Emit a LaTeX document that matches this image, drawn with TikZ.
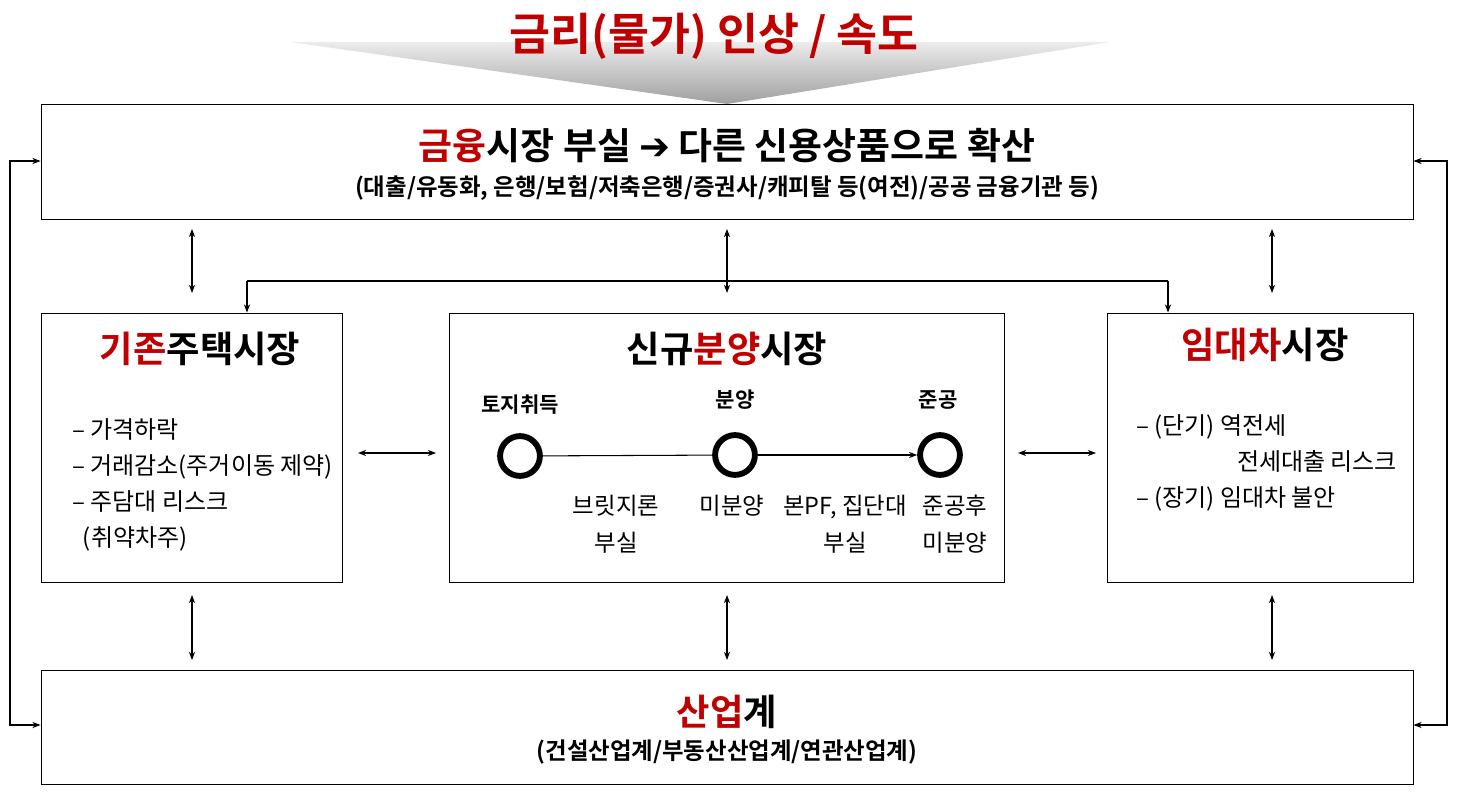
\documentclass[tikz,border=0pt]{standalone}
\usepackage{fontspec}
\setmainfont{Noto Sans CJK KR}
\newfontfamily\kb{Noto Sans CJK KR Bold}
\newfontfamily\djvarrow{DejaVu Sans Bold}
\usetikzlibrary{arrows.meta}
\definecolor{dred}{HTML}{C00000}
\tikzset{box/.style={draw,line width=0.8pt},
 dbl/.style={{Stealth[length=7pt]}-{Stealth[length=7pt]},line width=0.9pt},
 one/.style={-{Stealth[length=7pt]},line width=0.9pt},
 ring/.style={circle,draw,line width=5pt,minimum size=34pt,inner sep=0pt},
 lst/.style={font=\fontsize{20.5}{31}\selectfont,align=left,anchor=north west},
 two/.style={font=\fontsize{20}{32}\selectfont,align=center}}
\begin{document}
\begin{tikzpicture}[x=0.03cm,y=-0.03cm]
\useasboundingbox (0,0) rectangle (1457,795);
\shade[top color=gray!15,bottom color=gray!75] (290,42) -- (1110,42) -- (727,104) -- cycle;
\node (title) at (714,36) {\kb\fontsize{38}{40}\selectfont\color{dred}금리(물가) 인상 / 속도};
\node[box,minimum width=1372*0.03cm,minimum height=115*0.03cm] (top) at (727,161.5) {};
\node (t1) at (727,146) {\kb\fontsize{31.5}{34}\selectfont\textcolor{dred}{금융}시장 부실 {\djvarrow ➔} 다른 신용상품으로 확산};
\node (t2) at (727,188) {\kb\fontsize{20}{22}\selectfont (대출/유동화, 은행/보험/저축은행/증권사/캐피탈 등(여전)/공공 금융기관 등)};
\node[box,minimum width=1372*0.03cm,minimum height=114*0.03cm] (bot) at (727,727) {};
\node (b1) at (727,712) {\kb\fontsize{31}{34}\selectfont\textcolor{dred}{산업}계};
\node (b2) at (727,752) {\kb\fontsize{20}{22}\selectfont (건설산업계/부동산산업계/연관산업계)};
\node[box,minimum width=301*0.03cm,minimum height=269*0.03cm] (L) at (191.5,447.5) {};
\node[box,minimum width=555*0.03cm,minimum height=269*0.03cm] (M) at (726.5,447.5) {};
\node[box,minimum width=306*0.03cm,minimum height=269*0.03cm] (R) at (1260,447.5) {};
\node (Lh) at (200,349) {\kb\fontsize{31}{34}\selectfont\textcolor{dred}{기존}주택시장};
\node (Mh) at (727,349) {\kb\fontsize{31}{34}\selectfont 신규\textcolor{dred}{분양}시장};
\node (Rh) at (1265,345) {\kb\fontsize{31}{34}\selectfont\textcolor{dred}{임대차}시장};
\node[lst] (Ll) at (68,414) {– 가격하락\\– 거래감소(주거이동 제약)\\– 주담대 리스크\\\ \ (취약차주)};
\node[lst] (Rl) at (1132,410) {– (단기) 역전세\\\hspace{4.2em}전세대출 리스크\\– (장기) 임대차 불안};
\node[ring] (c1) at (520,456) {};
\node[ring] (c2) at (735,455) {};
\node[ring] (c3) at (940,455) {};
\draw[line width=0.9pt] (c1) -- (c2);
\draw[one] (c2) -- (c3);
\node (l1) at (520,405) {\kb\fontsize{18}{20}\selectfont 토지취득};
\node (l2) at (735,400) {\kb\fontsize{18}{20}\selectfont 분양};
\node (l3) at (938,400) {\kb\fontsize{18}{20}\selectfont 준공};
\node[two] (s1) at (616,524) {브릿지론\\부실};
\node[two] (s2) at (732,506) {미분양};
\node[two] (s3) at (845,524) {본PF, 집단대\\부실};
\node[two] (s4) at (955,524) {준공후\\미분양};
\foreach \x in {192,727,1272}{
 \draw[dbl] (\x,229) -- (\x,293);
 \draw[dbl] (\x,595) -- (\x,660);}
\draw[dbl] (358,453) -- (436,453);
\draw[dbl] (1018,453) -- (1096,453);
\coordinate (hl) at (247,281); \coordinate (hr) at (1168,281);
\draw[line width=0.9pt] (hl) -- (hr);
\draw[one] (hl) -- (L.north -| hl);
\draw[one] (hr) -- (R.north -| hr);
\coordinate (ol1) at (10,161); \coordinate (ol2) at (10,725);
\draw[one] (ol2) -- (ol1) -- (top.west |- ol1);
\draw[one] (ol1) -- (ol2) -- (bot.west |- ol2);
\coordinate (or1) at (1447,161); \coordinate (or2) at (1447,725);
\draw[one] (or2) -- (or1) -- (top.east |- or1);
\draw[one] (or1) -- (or2) -- (bot.east |- or2);
\end{tikzpicture}
\end{document}
